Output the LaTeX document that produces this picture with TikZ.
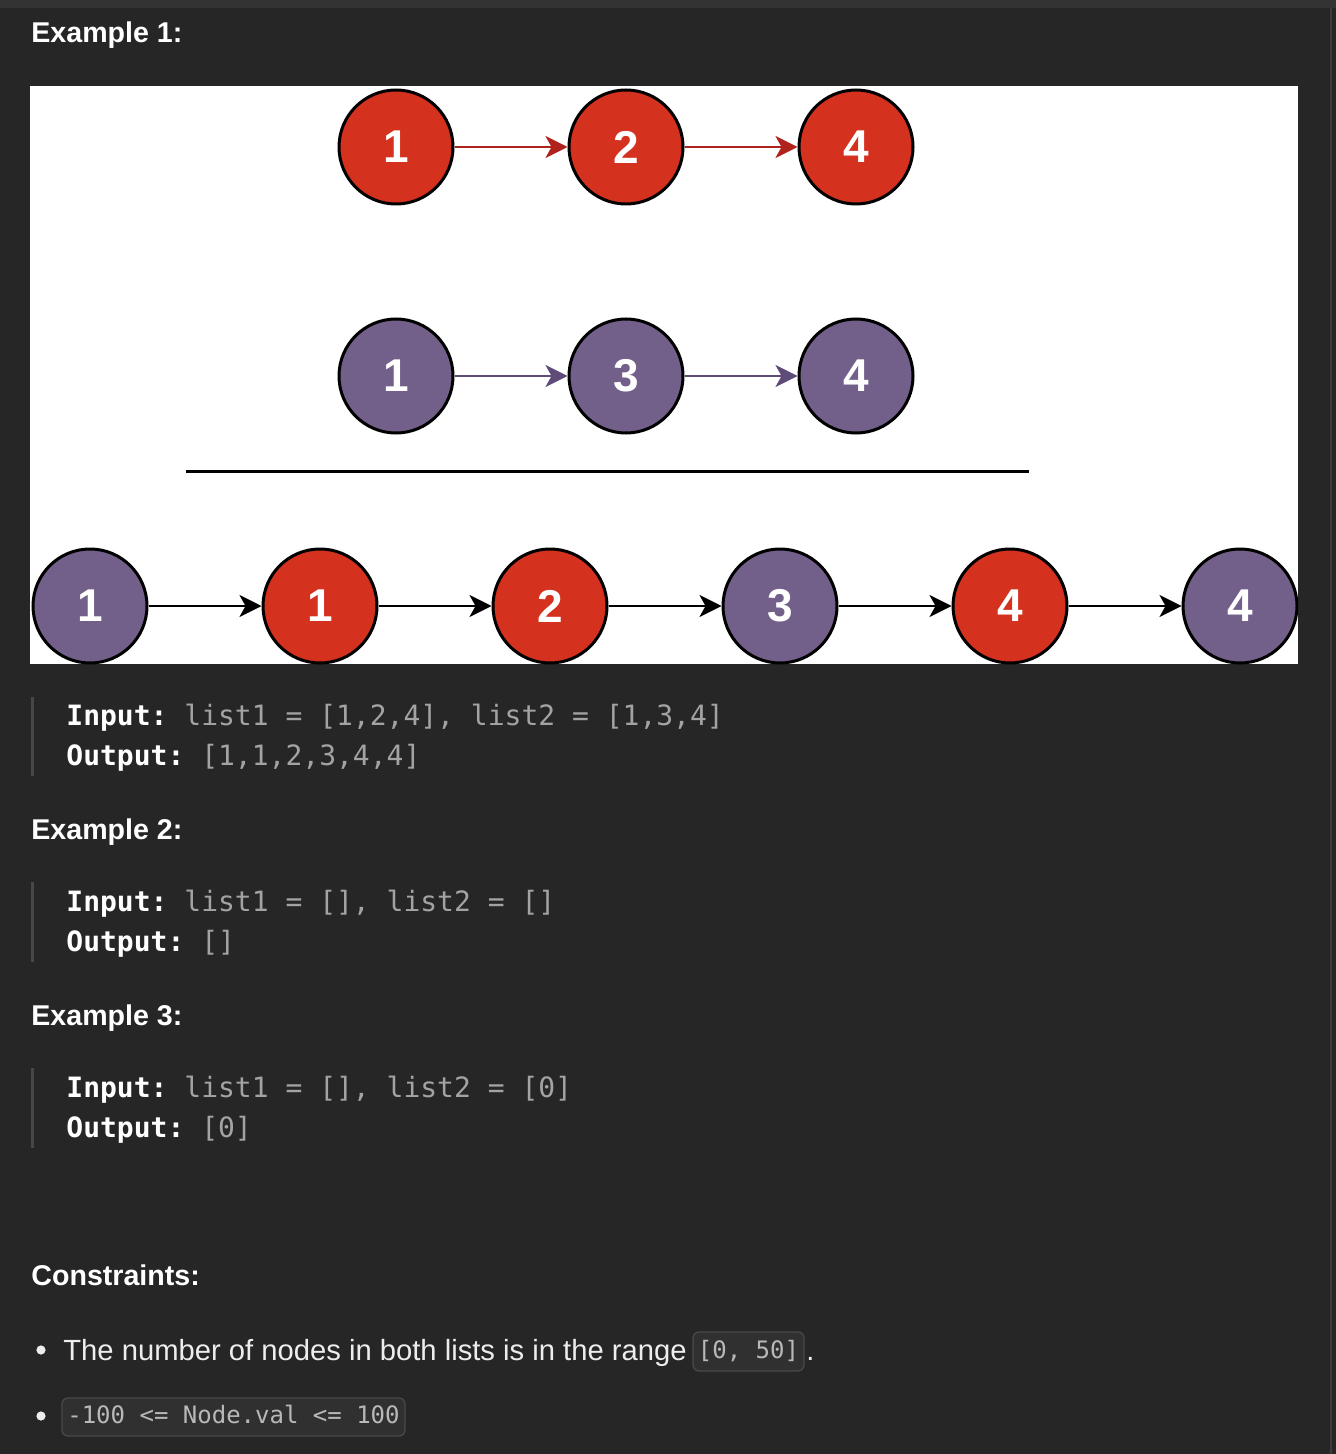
\documentclass[tikz,border=0pt]{standalone}
\usepackage{fontspec}
\setmainfont{Liberation Sans}
\setmonofont{DejaVu Sans Mono}
\usetikzlibrary{arrows.meta}
\definecolor{bg}{HTML}{262626}
\definecolor{topbar}{HTML}{333333}
\definecolor{edge}{HTML}{3C3C3C}
\definecolor{nred}{HTML}{D4311F}
\definecolor{npurple}{HTML}{73608A}
\definecolor{ared}{HTML}{B0231C}
\definecolor{apurple}{HTML}{5E4B78}
\definecolor{codebar}{HTML}{474747}
\definecolor{codegray}{HTML}{A3A3A3}
\definecolor{bodytext}{HTML}{EDEDED}
\definecolor{chipfill}{HTML}{303030}
\definecolor{chipdraw}{HTML}{4A4A4A}
\definecolor{chiptext}{HTML}{B8B8B8}
\begin{document}
\begin{tikzpicture}[x=0.5pt,y=-0.5pt,
  lnode/.style={circle, draw=black, line width=1.5pt, minimum size=57pt, inner sep=0pt, text=white, font=\fontsize{23}{23}\selectfont\bfseries},
  rnode/.style={lnode, fill=nred},
  pnode/.style={lnode, fill=npurple},
  arr/.style={line width=1.3pt, -{Stealth[length=11pt,width=11pt,inset=3pt]}},
  heading/.style={anchor=base west, inner sep=0pt, text=white, font=\fontsize{14.3}{17}\selectfont\bfseries},
  code/.style={anchor=base west, inner sep=0pt, text=codegray, font=\ttfamily\fontsize{14}{17}\selectfont},
  body/.style={anchor=base west, inner sep=0pt, text=bodytext, font=\fontsize{14.6}{17}\selectfont},
  chip/.style={draw=chipdraw, fill=chipfill, line width=0.6pt, rounded corners=3pt, inner sep=0pt, text=chiptext, font=\ttfamily\fontsize{12}{14}\selectfont, text height=9pt, text depth=2.5pt},
  bar/.style={draw=codebar, line width=1.5pt}
]
% background
\fill[bg] (0,0) rectangle (1336,1454);
\useasboundingbox (0,0) rectangle (1336,1454);
\fill[topbar] (0,0) rectangle (1336,8);
\fill[edge] (1330,8) rectangle (1332,1454);

% Example 1
\node[heading] (h1) at (31,43) {Example 1:};
\fill[white] (30,86) rectangle (1298,664);
\begin{scope}
\clip (30,86) rectangle (1298,664);
\node[rnode] (a1) at (396,147) {1};
\node[rnode] (a2) at (626,147) {2};
\node[rnode] (a3) at (856,147) {4};
\draw[arr, ared] (a1) -- (a2);
\draw[arr, ared] (a2) -- (a3);
\node[pnode] (b1) at (396,376) {1};
\node[pnode] (b2) at (626,376) {3};
\node[pnode] (b3) at (856,376) {4};
\draw[arr, apurple] (b1) -- (b2);
\draw[arr, apurple] (b2) -- (b3);
\coordinate (ls) at (186,471);
\coordinate (le) at (1029,471);
\draw[line width=1.5pt, black] (ls) -- (le);
\node[pnode] (c1) at (90,606) {1};
\node[rnode] (c2) at (320,606) {1};
\node[rnode] (c3) at (550,606) {2};
\node[pnode] (c4) at (780,606) {3};
\node[rnode] (c5) at (1010,606) {4};
\node[pnode] (c6) at (1240,606) {4};
\draw[arr, black] (c1) -- (c2);
\draw[arr, black] (c2) -- (c3);
\draw[arr, black] (c3) -- (c4);
\draw[arr, black] (c4) -- (c5);
\draw[arr, black] (c5) -- (c6);
\end{scope}

\coordinate (bar1s) at (32.5,697);
\coordinate (bar1e) at (32.5,776);
\draw[bar] (bar1s) -- (bar1e);
\node[code] (in1) at (66,725) {{\bfseries\color{white}Input:} list1 = [1,2,4], list2 = [1,3,4]};
\node[code] (out1) at (66,765) {{\bfseries\color{white}Output:} [1,1,2,3,4,4]};

% Example 2
\node[heading] (h2) at (31,839) {Example 2:};
\coordinate (bar2s) at (32.5,882);
\coordinate (bar2e) at (32.5,962);
\draw[bar] (bar2s) -- (bar2e);
\node[code] (in2) at (66,911) {{\bfseries\color{white}Input:} list1 = [], list2 = []};
\node[code] (out2) at (66,951) {{\bfseries\color{white}Output:} []};

% Example 3
\node[heading] (h3) at (31,1025) {Example 3:};
\coordinate (bar3s) at (32.5,1068);
\coordinate (bar3e) at (32.5,1148);
\draw[bar] (bar3s) -- (bar3e);
\node[code] (in3) at (66,1097) {{\bfseries\color{white}Input:} list1 = [], list2 = [0]};
\node[code] (out3) at (66,1137) {{\bfseries\color{white}Output:} [0]};

% Constraints
\node[heading] (h4) at (31,1285) {Constraints:};
\fill[bodytext] (41,1350) circle[radius=2.3pt];
\node[body] (t1) at (63,1360) {The number of nodes in both lists is in the range};
\node[chip, minimum width=55.5pt, minimum height=19.5pt] (k1) at (748.5,1351.5) {[0, 50]};
\node[body] (dot) at (806,1360) {.};
\fill[bodytext] (41,1416) circle[radius=2.3pt];
\node[chip, minimum width=171.5pt, minimum height=19pt] (k2) at (233.5,1417) {-100 <= Node.val <= 100};
\end{tikzpicture}
\end{document}
